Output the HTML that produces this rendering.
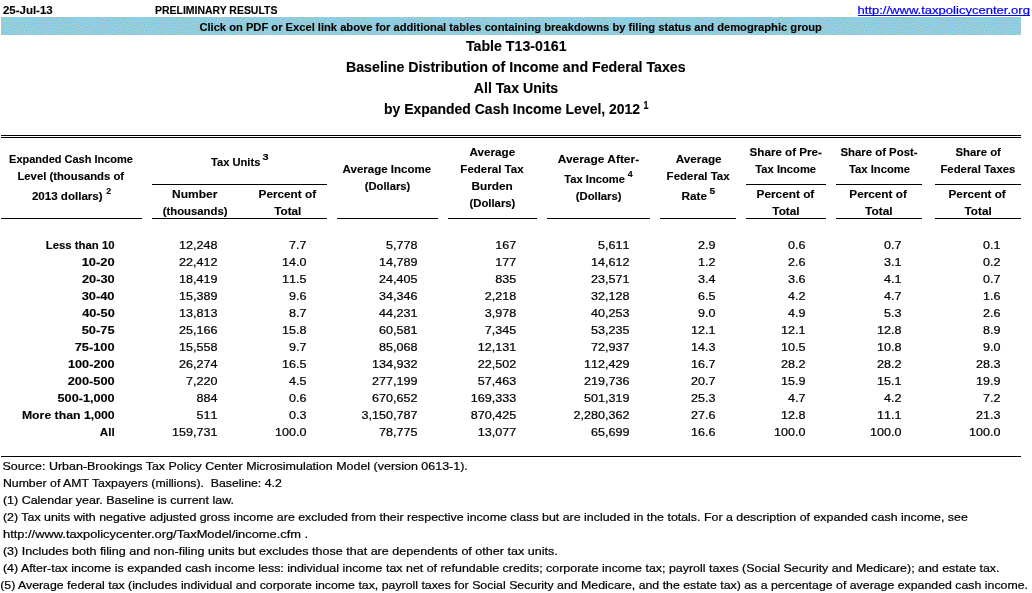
<!DOCTYPE html>
<html lang="en"><head><meta charset="utf-8"><title>Table T13-0161</title>
<style>
html,body{margin:0;padding:0;background:#fff}
#pg{position:relative;width:1032px;height:593px;overflow:hidden;background:#fff;color:#000;font-family:"Liberation Sans",sans-serif}
#pg span,#pg a,#pg sup{position:absolute;left:0;white-space:pre;transform-origin:0 0;margin:0;padding:0;vertical-align:baseline}
.b{font-weight:bold;font-size:11.5px;line-height:16px}
.r{font-weight:normal;font-size:11.8px;line-height:16px}
.n{font-kerning:none;font-weight:normal;font-size:11.8px;line-height:16px}
.t{font-weight:bold;font-size:13.8px;line-height:20px}
.l{font-weight:normal;font-size:11.8px;line-height:16px;color:#0000ff;text-decoration:none}
.s{font-weight:bold;font-size:8.5px;line-height:10px}
.st{font-weight:bold;font-size:10px;line-height:12px}
.hl{position:absolute;height:1px;background:#000}
.n,.r{-webkit-text-stroke:0.22px #000}.l{-webkit-text-stroke:0.22px #00f}.b,.t,.s,.st{-webkit-text-stroke:0.12px #000}
#band{position:absolute;left:1px;top:17px;width:1020px;height:18px;background:#92cddc;display:block}
</style></head>
<body><div id="pg">
<div class="top">
<svg id="band" width="1020" height="18" viewBox="0 0 1020 18" shape-rendering="crispEdges" aria-hidden="true"><defs><pattern id="dz" width="60" height="18" patternUnits="userSpaceOnUse"><rect width="60" height="18" fill="#99cccc"/><rect x="1" y="0" width="1" height="1" fill="#66ccff"/><rect x="8" y="0" width="1" height="1" fill="#99ccff"/><rect x="11" y="0" width="1" height="1" fill="#99ccff"/><rect x="13" y="0" width="1" height="1" fill="#66cccc"/><rect x="14" y="0" width="1" height="1" fill="#99ccff"/><rect x="17" y="0" width="1" height="1" fill="#99ccff"/><rect x="19" y="0" width="1" height="1" fill="#99ccff"/><rect x="22" y="0" width="1" height="1" fill="#99ccff"/><rect x="25" y="0" width="1" height="1" fill="#99ccff"/><rect x="29" y="0" width="1" height="1" fill="#99ccff"/><rect x="31" y="0" width="1" height="1" fill="#99ccff"/><rect x="36" y="0" width="1" height="1" fill="#99ccff"/><rect x="38" y="0" width="1" height="1" fill="#99ccff"/><rect x="42" y="0" width="1" height="1" fill="#99ccff"/><rect x="44" y="0" width="1" height="1" fill="#66cccc"/><rect x="47" y="0" width="1" height="1" fill="#66ccff"/><rect x="50" y="0" width="1" height="1" fill="#66ccff"/><rect x="52" y="0" width="1" height="1" fill="#99ccff"/><rect x="57" y="0" width="1" height="1" fill="#99ccff"/><rect x="58" y="0" width="1" height="1" fill="#66cccc"/><rect x="2" y="1" width="1" height="1" fill="#99ccff"/><rect x="4" y="1" width="1" height="1" fill="#66ccff"/><rect x="6" y="1" width="1" height="1" fill="#99ccff"/><rect x="7" y="1" width="1" height="1" fill="#66cccc"/><rect x="10" y="1" width="1" height="1" fill="#99ccff"/><rect x="13" y="1" width="1" height="1" fill="#99ccff"/><rect x="15" y="1" width="1" height="1" fill="#99ccff"/><rect x="17" y="1" width="1" height="1" fill="#66cccc"/><rect x="18" y="1" width="1" height="1" fill="#99ccff"/><rect x="20" y="1" width="1" height="1" fill="#99ccff"/><rect x="21" y="1" width="1" height="1" fill="#66cccc"/><rect x="23" y="1" width="1" height="1" fill="#99ccff"/><rect x="25" y="1" width="1" height="1" fill="#66cccc"/><rect x="27" y="1" width="1" height="1" fill="#99ccff"/><rect x="29" y="1" width="1" height="1" fill="#66cccc"/><rect x="32" y="1" width="1" height="1" fill="#99ccff"/><rect x="34" y="1" width="1" height="1" fill="#99ccff"/><rect x="35" y="1" width="1" height="1" fill="#66cccc"/><rect x="38" y="1" width="1" height="1" fill="#66cccc"/><rect x="39" y="1" width="1" height="1" fill="#99ccff"/><rect x="43" y="1" width="1" height="1" fill="#99ccff"/><rect x="45" y="1" width="1" height="1" fill="#99ccff"/><rect x="48" y="1" width="1" height="1" fill="#99ccff"/><rect x="51" y="1" width="1" height="1" fill="#99ccff"/><rect x="54" y="1" width="1" height="1" fill="#99ccff"/><rect x="56" y="1" width="1" height="1" fill="#66ccff"/><rect x="0" y="2" width="1" height="1" fill="#99ccff"/><rect x="2" y="2" width="1" height="1" fill="#66cccc"/><rect x="5" y="2" width="1" height="1" fill="#99ccff"/><rect x="8" y="2" width="1" height="1" fill="#99ccff"/><rect x="11" y="2" width="1" height="1" fill="#66ccff"/><rect x="15" y="2" width="1" height="1" fill="#66cccc"/><rect x="16" y="2" width="1" height="1" fill="#99ccff"/><rect x="21" y="2" width="1" height="1" fill="#99ccff"/><rect x="23" y="2" width="1" height="1" fill="#66cccc"/><rect x="24" y="2" width="1" height="1" fill="#99ccff"/><rect x="26" y="2" width="1" height="1" fill="#99ccff"/><rect x="29" y="2" width="1" height="1" fill="#99ccff"/><rect x="31" y="2" width="1" height="1" fill="#66ccff"/><rect x="35" y="2" width="1" height="1" fill="#99ccff"/><rect x="37" y="2" width="1" height="1" fill="#99ccff"/><rect x="40" y="2" width="1" height="1" fill="#66ccff"/><rect x="42" y="2" width="1" height="1" fill="#66ccff"/><rect x="45" y="2" width="1" height="1" fill="#99ccff"/><rect x="48" y="2" width="1" height="1" fill="#66cccc"/><rect x="49" y="2" width="1" height="1" fill="#99ccff"/><rect x="53" y="2" width="1" height="1" fill="#66ccff"/><rect x="58" y="2" width="1" height="1" fill="#99ccff"/><rect x="0" y="3" width="1" height="1" fill="#99ccff"/><rect x="2" y="3" width="1" height="1" fill="#99ccff"/><rect x="4" y="3" width="1" height="1" fill="#99ccff"/><rect x="7" y="3" width="1" height="1" fill="#99ccff"/><rect x="9" y="3" width="1" height="1" fill="#66cccc"/><rect x="10" y="3" width="1" height="1" fill="#99ccff"/><rect x="13" y="3" width="1" height="1" fill="#99ccff"/><rect x="15" y="3" width="1" height="1" fill="#99ccff"/><rect x="18" y="3" width="1" height="1" fill="#99ccff"/><rect x="19" y="3" width="1" height="1" fill="#66cccc"/><rect x="20" y="3" width="1" height="1" fill="#99ccff"/><rect x="25" y="3" width="1" height="1" fill="#99ccff"/><rect x="27" y="3" width="1" height="1" fill="#66cccc"/><rect x="29" y="3" width="1" height="1" fill="#99ccff"/><rect x="33" y="3" width="1" height="1" fill="#99ccff"/><rect x="35" y="3" width="1" height="1" fill="#66cccc"/><rect x="36" y="3" width="1" height="1" fill="#99ccff"/><rect x="38" y="3" width="1" height="1" fill="#99ccff"/><rect x="43" y="3" width="1" height="1" fill="#99ccff"/><rect x="46" y="3" width="1" height="1" fill="#66ccff"/><rect x="48" y="3" width="1" height="1" fill="#99ccff"/><rect x="51" y="3" width="1" height="1" fill="#66ccff"/><rect x="54" y="3" width="1" height="1" fill="#99ccff"/><rect x="56" y="3" width="1" height="1" fill="#99ccff"/><rect x="57" y="3" width="1" height="1" fill="#66cccc"/><rect x="59" y="3" width="1" height="1" fill="#99ccff"/><rect x="0" y="4" width="1" height="1" fill="#66cccc"/><rect x="3" y="4" width="1" height="1" fill="#99ccff"/><rect x="5" y="4" width="1" height="1" fill="#66cccc"/><rect x="6" y="4" width="1" height="1" fill="#99ccff"/><rect x="9" y="4" width="1" height="1" fill="#99ccff"/><rect x="12" y="4" width="1" height="1" fill="#66ccff"/><rect x="14" y="4" width="1" height="1" fill="#99ccff"/><rect x="17" y="4" width="1" height="1" fill="#99ccff"/><rect x="22" y="4" width="1" height="1" fill="#99ccff"/><rect x="23" y="4" width="1" height="1" fill="#66cccc"/><rect x="24" y="4" width="1" height="1" fill="#99ccff"/><rect x="27" y="4" width="1" height="1" fill="#99ccff"/><rect x="30" y="4" width="1" height="1" fill="#99ccff"/><rect x="32" y="4" width="1" height="1" fill="#99ccff"/><rect x="33" y="4" width="1" height="1" fill="#66cccc"/><rect x="35" y="4" width="1" height="1" fill="#99ccff"/><rect x="38" y="4" width="1" height="1" fill="#66cccc"/><rect x="39" y="4" width="1" height="1" fill="#99ccff"/><rect x="41" y="4" width="1" height="1" fill="#99ccff"/><rect x="44" y="4" width="1" height="1" fill="#66ccff"/><rect x="49" y="4" width="1" height="1" fill="#99ccff"/><rect x="52" y="4" width="1" height="1" fill="#99ccff"/><rect x="55" y="4" width="1" height="1" fill="#66cccc"/><rect x="57" y="4" width="1" height="1" fill="#99ccff"/><rect x="1" y="5" width="1" height="1" fill="#99ccff"/><rect x="3" y="5" width="1" height="1" fill="#66cccc"/><rect x="5" y="5" width="1" height="1" fill="#99ccff"/><rect x="8" y="5" width="1" height="1" fill="#66ccff"/><rect x="15" y="5" width="1" height="1" fill="#66ccff"/><rect x="18" y="5" width="1" height="1" fill="#66cccc"/><rect x="19" y="5" width="1" height="1" fill="#99ccff"/><rect x="21" y="5" width="1" height="1" fill="#99ccff"/><rect x="26" y="5" width="1" height="1" fill="#99ccff"/><rect x="29" y="5" width="1" height="1" fill="#66ccff"/><rect x="33" y="5" width="1" height="1" fill="#99ccff"/><rect x="37" y="5" width="1" height="1" fill="#99ccff"/><rect x="42" y="5" width="1" height="1" fill="#99ccff"/><rect x="45" y="5" width="1" height="1" fill="#99ccff"/><rect x="47" y="5" width="1" height="1" fill="#99ccff"/><rect x="48" y="5" width="1" height="1" fill="#66cccc"/><rect x="51" y="5" width="1" height="1" fill="#99ccff"/><rect x="53" y="5" width="1" height="1" fill="#99ccff"/><rect x="55" y="5" width="1" height="1" fill="#99ccff"/><rect x="58" y="5" width="1" height="1" fill="#99ccff"/><rect x="1" y="6" width="1" height="1" fill="#99ccff"/><rect x="3" y="6" width="1" height="1" fill="#99ccff"/><rect x="6" y="6" width="1" height="1" fill="#66cccc"/><rect x="9" y="6" width="1" height="1" fill="#99ccff"/><rect x="10" y="6" width="1" height="1" fill="#66cccc"/><rect x="11" y="6" width="1" height="1" fill="#99ccff"/><rect x="13" y="6" width="1" height="1" fill="#99ccff"/><rect x="17" y="6" width="1" height="1" fill="#99ccff"/><rect x="21" y="6" width="1" height="1" fill="#66cccc"/><rect x="23" y="6" width="1" height="1" fill="#99ccff"/><rect x="25" y="6" width="1" height="1" fill="#66ccff"/><rect x="28" y="6" width="1" height="1" fill="#99ccff"/><rect x="30" y="6" width="1" height="1" fill="#99ccff"/><rect x="32" y="6" width="1" height="1" fill="#99ccff"/><rect x="33" y="6" width="1" height="1" fill="#66cccc"/><rect x="35" y="6" width="1" height="1" fill="#99ccff"/><rect x="37" y="6" width="1" height="1" fill="#66cccc"/><rect x="39" y="6" width="1" height="1" fill="#99ccff"/><rect x="40" y="6" width="1" height="1" fill="#66cccc"/><rect x="41" y="6" width="1" height="1" fill="#99ccff"/><rect x="42" y="6" width="1" height="1" fill="#66cccc"/><rect x="44" y="6" width="1" height="1" fill="#99ccff"/><rect x="45" y="6" width="1" height="1" fill="#66cccc"/><rect x="47" y="6" width="1" height="1" fill="#99ccff"/><rect x="49" y="6" width="1" height="1" fill="#99ccff"/><rect x="50" y="6" width="1" height="1" fill="#66cccc"/><rect x="53" y="6" width="1" height="1" fill="#66cccc"/><rect x="56" y="6" width="1" height="1" fill="#66ccff"/><rect x="59" y="6" width="1" height="1" fill="#66ccff"/><rect x="1" y="7" width="1" height="1" fill="#66cccc"/><rect x="4" y="7" width="1" height="1" fill="#66ccff"/><rect x="6" y="7" width="1" height="1" fill="#99ccff"/><rect x="8" y="7" width="1" height="1" fill="#99ccff"/><rect x="14" y="7" width="1" height="1" fill="#99ccff"/><rect x="16" y="7" width="1" height="1" fill="#99ccff"/><rect x="18" y="7" width="1" height="1" fill="#66cccc"/><rect x="19" y="7" width="1" height="1" fill="#99ccff"/><rect x="21" y="7" width="1" height="1" fill="#99ccff"/><rect x="23" y="7" width="1" height="1" fill="#66cccc"/><rect x="27" y="7" width="1" height="1" fill="#66ccff"/><rect x="31" y="7" width="1" height="1" fill="#66ccff"/><rect x="36" y="7" width="1" height="1" fill="#99ccff"/><rect x="38" y="7" width="1" height="1" fill="#99ccff"/><rect x="42" y="7" width="1" height="1" fill="#99ccff"/><rect x="45" y="7" width="1" height="1" fill="#99ccff"/><rect x="50" y="7" width="1" height="1" fill="#99ccff"/><rect x="52" y="7" width="1" height="1" fill="#99ccff"/><rect x="54" y="7" width="1" height="1" fill="#99ccff"/><rect x="57" y="7" width="1" height="1" fill="#99ccff"/><rect x="0" y="8" width="1" height="1" fill="#99ccff"/><rect x="2" y="8" width="1" height="1" fill="#99ccff"/><rect x="6" y="8" width="1" height="1" fill="#99ccff"/><rect x="10" y="8" width="1" height="1" fill="#99ccff"/><rect x="12" y="8" width="1" height="1" fill="#66ccff"/><rect x="14" y="8" width="1" height="1" fill="#66ccff"/><rect x="18" y="8" width="1" height="1" fill="#99ccff"/><rect x="20" y="8" width="1" height="1" fill="#66cccc"/><rect x="22" y="8" width="1" height="1" fill="#99ccff"/><rect x="24" y="8" width="1" height="1" fill="#99ccff"/><rect x="26" y="8" width="1" height="1" fill="#99ccff"/><rect x="29" y="8" width="1" height="1" fill="#99ccff"/><rect x="33" y="8" width="1" height="1" fill="#99ccff"/><rect x="35" y="8" width="1" height="1" fill="#66ccff"/><rect x="37" y="8" width="1" height="1" fill="#99ccff"/><rect x="38" y="8" width="1" height="1" fill="#66cccc"/><rect x="39" y="8" width="1" height="1" fill="#99ccff"/><rect x="43" y="8" width="1" height="1" fill="#99ccff"/><rect x="44" y="8" width="1" height="1" fill="#66cccc"/><rect x="47" y="8" width="1" height="1" fill="#99ccff"/><rect x="48" y="8" width="1" height="1" fill="#66cccc"/><rect x="49" y="8" width="1" height="1" fill="#99ccff"/><rect x="51" y="8" width="1" height="1" fill="#66cccc"/><rect x="53" y="8" width="1" height="1" fill="#99ccff"/><rect x="54" y="8" width="1" height="1" fill="#66cccc"/><rect x="56" y="8" width="1" height="1" fill="#99ccff"/><rect x="58" y="8" width="1" height="1" fill="#66cccc"/><rect x="59" y="8" width="1" height="1" fill="#99ccff"/><rect x="1" y="9" width="1" height="1" fill="#99ccff"/><rect x="2" y="9" width="1" height="1" fill="#66cccc"/><rect x="4" y="9" width="1" height="1" fill="#99ccff"/><rect x="6" y="9" width="1" height="1" fill="#66cccc"/><rect x="8" y="9" width="1" height="1" fill="#99ccff"/><rect x="9" y="9" width="1" height="1" fill="#66cccc"/><rect x="10" y="9" width="1" height="1" fill="#99ccff"/><rect x="13" y="9" width="1" height="1" fill="#99ccff"/><rect x="16" y="9" width="1" height="1" fill="#66ccff"/><rect x="19" y="9" width="1" height="1" fill="#99ccff"/><rect x="21" y="9" width="1" height="1" fill="#99ccff"/><rect x="23" y="9" width="1" height="1" fill="#66cccc"/><rect x="25" y="9" width="1" height="1" fill="#99ccff"/><rect x="28" y="9" width="1" height="1" fill="#66ccff"/><rect x="31" y="9" width="1" height="1" fill="#99ccff"/><rect x="33" y="9" width="1" height="1" fill="#66cccc"/><rect x="35" y="9" width="1" height="1" fill="#99ccff"/><rect x="40" y="9" width="1" height="1" fill="#66ccff"/><rect x="42" y="9" width="1" height="1" fill="#99ccff"/><rect x="45" y="9" width="1" height="1" fill="#99ccff"/><rect x="47" y="9" width="1" height="1" fill="#99ccff"/><rect x="51" y="9" width="1" height="1" fill="#99ccff"/><rect x="55" y="9" width="1" height="1" fill="#99ccff"/><rect x="56" y="9" width="1" height="1" fill="#66cccc"/><rect x="58" y="9" width="1" height="1" fill="#99ccff"/><rect x="0" y="10" width="1" height="1" fill="#99ccff"/><rect x="5" y="10" width="1" height="1" fill="#99ccff"/><rect x="7" y="10" width="1" height="1" fill="#66ccff"/><rect x="11" y="10" width="1" height="1" fill="#99ccff"/><rect x="14" y="10" width="1" height="1" fill="#99ccff"/><rect x="17" y="10" width="1" height="1" fill="#99ccff"/><rect x="18" y="10" width="1" height="1" fill="#66cccc"/><rect x="20" y="10" width="1" height="1" fill="#99ccff"/><rect x="23" y="10" width="1" height="1" fill="#99ccff"/><rect x="26" y="10" width="1" height="1" fill="#66cccc"/><rect x="27" y="10" width="1" height="1" fill="#99ccff"/><rect x="30" y="10" width="1" height="1" fill="#66ccff"/><rect x="33" y="10" width="1" height="1" fill="#99ccff"/><rect x="36" y="10" width="1" height="1" fill="#66cccc"/><rect x="37" y="10" width="1" height="1" fill="#99ccff"/><rect x="39" y="10" width="1" height="1" fill="#99ccff"/><rect x="42" y="10" width="1" height="1" fill="#66cccc"/><rect x="43" y="10" width="1" height="1" fill="#99ccff"/><rect x="46" y="10" width="1" height="1" fill="#66cccc"/><rect x="48" y="10" width="1" height="1" fill="#99ccff"/><rect x="51" y="10" width="1" height="1" fill="#99ccff"/><rect x="53" y="10" width="1" height="1" fill="#66ccff"/><rect x="57" y="10" width="1" height="1" fill="#99ccff"/><rect x="2" y="11" width="1" height="1" fill="#99ccff"/><rect x="3" y="11" width="1" height="1" fill="#66cccc"/><rect x="4" y="11" width="1" height="1" fill="#99ccff"/><rect x="7" y="11" width="1" height="1" fill="#99ccff"/><rect x="9" y="11" width="1" height="1" fill="#99ccff"/><rect x="11" y="11" width="1" height="1" fill="#66cccc"/><rect x="13" y="11" width="1" height="1" fill="#99ccff"/><rect x="14" y="11" width="1" height="1" fill="#66cccc"/><rect x="16" y="11" width="1" height="1" fill="#99ccff"/><rect x="22" y="11" width="1" height="1" fill="#66ccff"/><rect x="25" y="11" width="1" height="1" fill="#99ccff"/><rect x="28" y="11" width="1" height="1" fill="#99ccff"/><rect x="31" y="11" width="1" height="1" fill="#99ccff"/><rect x="34" y="11" width="1" height="1" fill="#99ccff"/><rect x="36" y="11" width="1" height="1" fill="#99ccff"/><rect x="40" y="11" width="1" height="1" fill="#99ccff"/><rect x="44" y="11" width="1" height="1" fill="#66ccff"/><rect x="46" y="11" width="1" height="1" fill="#99ccff"/><rect x="49" y="11" width="1" height="1" fill="#66ccff"/><rect x="53" y="11" width="1" height="1" fill="#99ccff"/><rect x="55" y="11" width="1" height="1" fill="#99ccff"/><rect x="58" y="11" width="1" height="1" fill="#99ccff"/><rect x="5" y="12" width="1" height="1" fill="#66ccff"/><rect x="9" y="12" width="1" height="1" fill="#66cccc"/><rect x="10" y="12" width="1" height="1" fill="#99ccff"/><rect x="12" y="12" width="1" height="1" fill="#99ccff"/><rect x="15" y="12" width="1" height="1" fill="#99ccff"/><rect x="18" y="12" width="1" height="1" fill="#66ccff"/><rect x="20" y="12" width="1" height="1" fill="#99ccff"/><rect x="23" y="12" width="1" height="1" fill="#99ccff"/><rect x="26" y="12" width="1" height="1" fill="#66ccff"/><rect x="29" y="12" width="1" height="1" fill="#99ccff"/><rect x="32" y="12" width="1" height="1" fill="#66ccff"/><rect x="37" y="12" width="1" height="1" fill="#66cccc"/><rect x="38" y="12" width="1" height="1" fill="#99ccff"/><rect x="40" y="12" width="1" height="1" fill="#66cccc"/><rect x="41" y="12" width="1" height="1" fill="#99ccff"/><rect x="45" y="12" width="1" height="1" fill="#99ccff"/><rect x="48" y="12" width="1" height="1" fill="#99ccff"/><rect x="51" y="12" width="1" height="1" fill="#66ccff"/><rect x="56" y="12" width="1" height="1" fill="#66ccff"/><rect x="58" y="12" width="1" height="1" fill="#66cccc"/><rect x="59" y="12" width="1" height="1" fill="#99ccff"/><rect x="1" y="13" width="1" height="1" fill="#66ccff"/><rect x="3" y="13" width="1" height="1" fill="#99ccff"/><rect x="6" y="13" width="1" height="1" fill="#99ccff"/><rect x="7" y="13" width="1" height="1" fill="#66cccc"/><rect x="8" y="13" width="1" height="1" fill="#99ccff"/><rect x="11" y="13" width="1" height="1" fill="#99ccff"/><rect x="14" y="13" width="1" height="1" fill="#99ccff"/><rect x="16" y="13" width="1" height="1" fill="#66cccc"/><rect x="18" y="13" width="1" height="1" fill="#99ccff"/><rect x="21" y="13" width="1" height="1" fill="#99ccff"/><rect x="22" y="13" width="1" height="1" fill="#66cccc"/><rect x="24" y="13" width="1" height="1" fill="#99ccff"/><rect x="25" y="13" width="1" height="1" fill="#66cccc"/><rect x="27" y="13" width="1" height="1" fill="#99ccff"/><rect x="29" y="13" width="1" height="1" fill="#66cccc"/><rect x="30" y="13" width="1" height="1" fill="#99ccff"/><rect x="33" y="13" width="1" height="1" fill="#99ccff"/><rect x="35" y="13" width="1" height="1" fill="#66ccff"/><rect x="37" y="13" width="1" height="1" fill="#99ccff"/><rect x="40" y="13" width="1" height="1" fill="#99ccff"/><rect x="42" y="13" width="1" height="1" fill="#99ccff"/><rect x="44" y="13" width="1" height="1" fill="#99ccff"/><rect x="45" y="13" width="1" height="1" fill="#66cccc"/><rect x="47" y="13" width="1" height="1" fill="#99ccff"/><rect x="50" y="13" width="1" height="1" fill="#99ccff"/><rect x="52" y="13" width="1" height="1" fill="#99ccff"/><rect x="54" y="13" width="1" height="1" fill="#99ccff"/><rect x="57" y="13" width="1" height="1" fill="#99ccff"/><rect x="0" y="14" width="1" height="1" fill="#99ccff"/><rect x="4" y="14" width="1" height="1" fill="#99ccff"/><rect x="8" y="14" width="1" height="1" fill="#99ccff"/><rect x="10" y="14" width="1" height="1" fill="#99ccff"/><rect x="13" y="14" width="1" height="1" fill="#66ccff"/><rect x="16" y="14" width="1" height="1" fill="#99ccff"/><rect x="20" y="14" width="1" height="1" fill="#66ccff"/><rect x="23" y="14" width="1" height="1" fill="#99ccff"/><rect x="26" y="14" width="1" height="1" fill="#99ccff"/><rect x="29" y="14" width="1" height="1" fill="#99ccff"/><rect x="34" y="14" width="1" height="1" fill="#66cccc"/><rect x="36" y="14" width="1" height="1" fill="#99ccff"/><rect x="39" y="14" width="1" height="1" fill="#99ccff"/><rect x="41" y="14" width="1" height="1" fill="#66cccc"/><rect x="45" y="14" width="1" height="1" fill="#99ccff"/><rect x="49" y="14" width="1" height="1" fill="#66ccff"/><rect x="53" y="14" width="1" height="1" fill="#66ccff"/><rect x="55" y="14" width="1" height="1" fill="#99ccff"/><rect x="58" y="14" width="1" height="1" fill="#99ccff"/><rect x="2" y="15" width="1" height="1" fill="#99ccff"/><rect x="5" y="15" width="1" height="1" fill="#66ccff"/><rect x="7" y="15" width="1" height="1" fill="#99ccff"/><rect x="10" y="15" width="1" height="1" fill="#66cccc"/><rect x="11" y="15" width="1" height="1" fill="#99ccff"/><rect x="16" y="15" width="1" height="1" fill="#66cccc"/><rect x="17" y="15" width="1" height="1" fill="#99ccff"/><rect x="19" y="15" width="1" height="1" fill="#99ccff"/><rect x="23" y="15" width="1" height="1" fill="#99ccff"/><rect x="27" y="15" width="1" height="1" fill="#99ccff"/><rect x="28" y="15" width="1" height="1" fill="#66cccc"/><rect x="30" y="15" width="1" height="1" fill="#99ccff"/><rect x="31" y="15" width="1" height="1" fill="#66cccc"/><rect x="32" y="15" width="1" height="1" fill="#99ccff"/><rect x="34" y="15" width="1" height="1" fill="#99ccff"/><rect x="37" y="15" width="1" height="1" fill="#66ccff"/><rect x="39" y="15" width="1" height="1" fill="#66cccc"/><rect x="41" y="15" width="1" height="1" fill="#99ccff"/><rect x="43" y="15" width="1" height="1" fill="#99ccff"/><rect x="44" y="15" width="1" height="1" fill="#66cccc"/><rect x="47" y="15" width="1" height="1" fill="#66ccff"/><rect x="50" y="15" width="1" height="1" fill="#99ccff"/><rect x="52" y="15" width="1" height="1" fill="#99ccff"/><rect x="56" y="15" width="1" height="1" fill="#66cccc"/><rect x="58" y="15" width="1" height="1" fill="#66ccff"/><rect x="1" y="16" width="1" height="1" fill="#66ccff"/><rect x="4" y="16" width="1" height="1" fill="#66ccff"/><rect x="9" y="16" width="1" height="1" fill="#99ccff"/><rect x="12" y="16" width="1" height="1" fill="#99ccff"/><rect x="14" y="16" width="1" height="1" fill="#66ccff"/><rect x="16" y="16" width="1" height="1" fill="#99ccff"/><rect x="18" y="16" width="1" height="1" fill="#66cccc"/><rect x="21" y="16" width="1" height="1" fill="#99ccff"/><rect x="24" y="16" width="1" height="1" fill="#99ccff"/><rect x="25" y="16" width="1" height="1" fill="#66cccc"/><rect x="28" y="16" width="1" height="1" fill="#99ccff"/><rect x="34" y="16" width="1" height="1" fill="#99ccff"/><rect x="38" y="16" width="1" height="1" fill="#99ccff"/><rect x="40" y="16" width="1" height="1" fill="#99ccff"/><rect x="42" y="16" width="1" height="1" fill="#66ccff"/><rect x="44" y="16" width="1" height="1" fill="#99ccff"/><rect x="46" y="16" width="1" height="1" fill="#99ccff"/><rect x="51" y="16" width="1" height="1" fill="#66ccff"/><rect x="54" y="16" width="1" height="1" fill="#99ccff"/><rect x="56" y="16" width="1" height="1" fill="#99ccff"/><rect x="2" y="17" width="1" height="1" fill="#99ccff"/><rect x="6" y="17" width="1" height="1" fill="#99ccff"/><rect x="7" y="17" width="1" height="1" fill="#66cccc"/><rect x="8" y="17" width="1" height="1" fill="#99ccff"/><rect x="11" y="17" width="1" height="1" fill="#66ccff"/><rect x="15" y="17" width="1" height="1" fill="#99ccff"/><rect x="18" y="17" width="1" height="1" fill="#99ccff"/><rect x="20" y="17" width="1" height="1" fill="#99ccff"/><rect x="22" y="17" width="1" height="1" fill="#66cccc"/><rect x="23" y="17" width="1" height="1" fill="#99ccff"/><rect x="26" y="17" width="1" height="1" fill="#99ccff"/><rect x="29" y="17" width="1" height="1" fill="#99ccff"/><rect x="30" y="17" width="1" height="1" fill="#66cccc"/><rect x="31" y="17" width="1" height="1" fill="#99ccff"/><rect x="33" y="17" width="1" height="1" fill="#66ccff"/><rect x="35" y="17" width="1" height="1" fill="#99ccff"/><rect x="36" y="17" width="1" height="1" fill="#66cccc"/><rect x="37" y="17" width="1" height="1" fill="#99ccff"/><rect x="40" y="17" width="1" height="1" fill="#66cccc"/><rect x="45" y="17" width="1" height="1" fill="#99ccff"/><rect x="48" y="17" width="1" height="1" fill="#99ccff"/><rect x="49" y="17" width="1" height="1" fill="#66cccc"/><rect x="50" y="17" width="1" height="1" fill="#99ccff"/><rect x="53" y="17" width="1" height="1" fill="#66ccff"/><rect x="57" y="17" width="1" height="1" fill="#99ccff"/><rect x="59" y="17" width="1" height="1" fill="#99ccff"/></pattern></defs><rect width="1020" height="18" fill="url(#dz)"/></svg>
<span class="b" style="top:2px;transform:translateX(2.91px) scaleX(0.9987)">25-Jul-13</span>
<span class="b" style="top:2px;transform:translateX(155.00px) scaleX(0.9093)">PRELIMINARY RESULTS</span>
<a class="l" style="top:2px;transform:translateX(857.45px) scaleX(1.1052)">http://www.taxpolicycenter.org</a>
<span class="b" style="top:19px;transform:translateX(199.39px) scaleX(0.9704)">Click on PDF or Excel link above for additional tables containing breakdowns by filing status and demographic group</span>
<span class="t" style="top:37px;transform:translateX(465.91px) scaleX(1.0286)">Table T13-0161</span>
<span class="t" style="top:58px;transform:translateX(345.97px) scaleX(1.0287)">Baseline Distribution of Income and Federal Taxes</span>
<span class="t" style="top:79px;transform:translateX(473.85px) scaleX(1.0219)">All Tax Units</span>
<span class="t" style="top:100px;transform:translateX(383.99px) scaleX(1.0122)">by Expanded Cash Income Level, 2012</span>
<sup class="st" style="top:100px;transform:translateX(643.38px) scaleX(0.9064)">1</sup>
<div class="hl" style="left:858px;top:15px;width:172px;background:#0000ff"></div>
</div>
<div class="thead">
<div class="hl" style="left:1px;top:135px;width:1020px"></div>
<div class="hl" style="left:1px;top:137px;width:1020px"></div>
<div class="hl" style="left:1px;top:218px;width:141px"></div>
<div class="hl" style="left:152px;top:218px;width:175px"></div>
<div class="hl" style="left:152px;top:184px;width:175px"></div>
<div class="hl" style="left:337px;top:218px;width:101px"></div>
<div class="hl" style="left:448px;top:218px;width:89px"></div>
<div class="hl" style="left:547px;top:218px;width:103px"></div>
<div class="hl" style="left:660px;top:218px;width:76px"></div>
<div class="hl" style="left:746px;top:218px;width:80px"></div>
<div class="hl" style="left:746px;top:184px;width:80px"></div>
<div class="hl" style="left:836px;top:218px;width:86px"></div>
<div class="hl" style="left:836px;top:184px;width:86px"></div>
<div class="hl" style="left:935px;top:218px;width:86px"></div>
<div class="hl" style="left:935px;top:184px;width:86px"></div>
<span class="b" style="top:151px;transform:translateX(9.07px) scaleX(0.9547)">Expanded Cash Income</span>
<span class="b" style="top:168px;transform:translateX(17.45px) scaleX(0.9812)">Level (thousands of</span>
<span class="b" style="top:188px;transform:translateX(31.90px) scaleX(1.0063)">2013 dollars)</span>
<sup class="s" style="top:186px;transform:translateX(106.19px) scaleX(1.0328)">2</sup>
<span class="b" style="top:154px;transform:translateX(211.07px) scaleX(0.9674)">Tax Units</span>
<sup class="s" style="top:152px;transform:translateX(262.43px) scaleX(1.2696)">3</sup>
<span class="b" style="top:186px;transform:translateX(172.00px) scaleX(1.0429)">Number</span>
<span class="b" style="top:203px;transform:translateX(162.71px) scaleX(0.9849)">(thousands)</span>
<span class="b" style="top:186px;transform:translateX(258.55px) scaleX(1.0236)">Percent of</span>
<span class="b" style="top:203px;transform:translateX(274.28px) scaleX(1.0173)">Total</span>
<span class="b" style="top:161px;transform:translateX(342.62px) scaleX(1.0005)">Average Income</span>
<span class="b" style="top:178px;transform:translateX(364.76px) scaleX(0.9748)">(Dollars)</span>
<span class="b" style="top:144px;transform:translateX(469.50px) scaleX(1.0146)">Average</span>
<span class="b" style="top:161px;transform:translateX(460.37px) scaleX(1.0024)">Federal Tax</span>
<span class="b" style="top:178px;transform:translateX(471.51px) scaleX(1.0254)">Burden</span>
<span class="b" style="top:195px;transform:translateX(469.47px) scaleX(0.9843)">(Dollars)</span>
<span class="b" style="top:151px;transform:translateX(557.73px) scaleX(1.0383)">Average After-</span>
<span class="b" style="top:171px;transform:translateX(564.36px) scaleX(0.9692)">Tax Income</span>
<sup class="s" style="top:169px;transform:translateX(627.79px) scaleX(1.0386)">4</sup>
<span class="b" style="top:188px;transform:translateX(575.71px) scaleX(0.9832)">(Dollars)</span>
<span class="b" style="top:151px;transform:translateX(675.84px) scaleX(1.0169)">Average</span>
<span class="b" style="top:168px;transform:translateX(666.62px) scaleX(0.9990)">Federal Tax</span>
<span class="b" style="top:188px;transform:translateX(681.50px) scaleX(1.0271)">Rate</span>
<sup class="s" style="top:186px;transform:translateX(709.52px) scaleX(1.1968)">5</sup>
<span class="b" style="top:144px;transform:translateX(749.62px) scaleX(1.0095)">Share of Pre-</span>
<span class="b" style="top:161px;transform:translateX(755.34px) scaleX(0.9725)">Tax Income</span>
<span class="b" style="top:186px;transform:translateX(756.53px) scaleX(1.0274)">Percent of</span>
<span class="b" style="top:203px;transform:translateX(772.30px) scaleX(1.0272)">Total</span>
<span class="b" style="top:144px;transform:translateX(840.38px) scaleX(0.9899)">Share of Post-</span>
<span class="b" style="top:161px;transform:translateX(849.06px) scaleX(0.9784)">Tax Income</span>
<span class="b" style="top:186px;transform:translateX(849.30px) scaleX(1.0231)">Percent of</span>
<span class="b" style="top:203px;transform:translateX(865.02px) scaleX(1.0357)">Total</span>
<span class="b" style="top:144px;transform:translateX(955.45px) scaleX(0.9867)">Share of</span>
<span class="b" style="top:161px;transform:translateX(940.42px) scaleX(0.9875)">Federal Taxes</span>
<span class="b" style="top:186px;transform:translateX(948.57px) scaleX(1.0170)">Percent of</span>
<span class="b" style="top:203px;transform:translateX(964.58px) scaleX(1.0181)">Total</span>
</div>
<div class="tbody">
<div class="tr"><span class="b" style="top:237px;transform:translateX(45.69px) scaleX(0.9883)">Less than 10</span><span class="n" style="top:237px;transform:translateX(179.10px) scaleX(1.0667)">12,248</span><span class="n" style="top:237px;transform:translateX(289.10px) scaleX(1.0667)">7.7</span><span class="n" style="top:237px;transform:translateX(386.10px) scaleX(1.0667)">5,778</span><span class="n" style="top:237px;transform:translateX(495.20px) scaleX(1.0667)">167</span><span class="n" style="top:237px;transform:translateX(597.90px) scaleX(1.0667)">5,611</span><span class="n" style="top:237px;transform:translateX(698.10px) scaleX(1.0667)">2.9</span><span class="n" style="top:237px;transform:translateX(788.10px) scaleX(1.0667)">0.6</span><span class="n" style="top:237px;transform:translateX(884.10px) scaleX(1.0667)">0.7</span><span class="n" style="top:237px;transform:translateX(983.10px) scaleX(1.0667)">0.1</span></div>
<div class="tr"><span class="b" style="top:254px;transform:translateX(81.69px) scaleX(1.1207)">10-20</span><span class="n" style="top:254px;transform:translateX(179.10px) scaleX(1.0667)">22,412</span><span class="n" style="top:254px;transform:translateX(282.10px) scaleX(1.0667)">14.0</span><span class="n" style="top:254px;transform:translateX(379.10px) scaleX(1.0667)">14,789</span><span class="n" style="top:254px;transform:translateX(495.20px) scaleX(1.0667)">177</span><span class="n" style="top:254px;transform:translateX(590.90px) scaleX(1.0667)">14,612</span><span class="n" style="top:254px;transform:translateX(698.10px) scaleX(1.0667)">1.2</span><span class="n" style="top:254px;transform:translateX(788.10px) scaleX(1.0667)">2.6</span><span class="n" style="top:254px;transform:translateX(884.10px) scaleX(1.0667)">3.1</span><span class="n" style="top:254px;transform:translateX(983.10px) scaleX(1.0667)">0.2</span></div>
<div class="tr"><span class="b" style="top:271px;transform:translateX(81.91px) scaleX(1.1122)">20-30</span><span class="n" style="top:271px;transform:translateX(179.10px) scaleX(1.0667)">18,419</span><span class="n" style="top:271px;transform:translateX(282.10px) scaleX(1.0667)">11.5</span><span class="n" style="top:271px;transform:translateX(379.10px) scaleX(1.0667)">24,405</span><span class="n" style="top:271px;transform:translateX(495.20px) scaleX(1.0667)">835</span><span class="n" style="top:271px;transform:translateX(590.90px) scaleX(1.0667)">23,571</span><span class="n" style="top:271px;transform:translateX(698.10px) scaleX(1.0667)">3.4</span><span class="n" style="top:271px;transform:translateX(788.10px) scaleX(1.0667)">3.6</span><span class="n" style="top:271px;transform:translateX(884.10px) scaleX(1.0667)">4.1</span><span class="n" style="top:271px;transform:translateX(983.10px) scaleX(1.0667)">0.7</span></div>
<div class="tr"><span class="b" style="top:288px;transform:translateX(81.64px) scaleX(1.1177)">30-40</span><span class="n" style="top:288px;transform:translateX(179.10px) scaleX(1.0667)">15,389</span><span class="n" style="top:288px;transform:translateX(289.10px) scaleX(1.0667)">9.6</span><span class="n" style="top:288px;transform:translateX(379.10px) scaleX(1.0667)">34,346</span><span class="n" style="top:288px;transform:translateX(484.70px) scaleX(1.0667)">2,218</span><span class="n" style="top:288px;transform:translateX(590.90px) scaleX(1.0667)">32,128</span><span class="n" style="top:288px;transform:translateX(698.10px) scaleX(1.0667)">6.5</span><span class="n" style="top:288px;transform:translateX(788.10px) scaleX(1.0667)">4.2</span><span class="n" style="top:288px;transform:translateX(884.10px) scaleX(1.0667)">4.7</span><span class="n" style="top:288px;transform:translateX(983.10px) scaleX(1.0667)">1.6</span></div>
<div class="tr"><span class="b" style="top:305px;transform:translateX(82.22px) scaleX(1.1044)">40-50</span><span class="n" style="top:305px;transform:translateX(179.10px) scaleX(1.0667)">13,813</span><span class="n" style="top:305px;transform:translateX(289.10px) scaleX(1.0667)">8.7</span><span class="n" style="top:305px;transform:translateX(379.10px) scaleX(1.0667)">44,231</span><span class="n" style="top:305px;transform:translateX(484.70px) scaleX(1.0667)">3,978</span><span class="n" style="top:305px;transform:translateX(590.90px) scaleX(1.0667)">40,253</span><span class="n" style="top:305px;transform:translateX(698.10px) scaleX(1.0667)">9.0</span><span class="n" style="top:305px;transform:translateX(788.10px) scaleX(1.0667)">4.9</span><span class="n" style="top:305px;transform:translateX(884.10px) scaleX(1.0667)">5.3</span><span class="n" style="top:305px;transform:translateX(983.10px) scaleX(1.0667)">2.6</span></div>
<div class="tr"><span class="b" style="top:322px;transform:translateX(81.75px) scaleX(1.1138)">50-75</span><span class="n" style="top:322px;transform:translateX(179.10px) scaleX(1.0667)">25,166</span><span class="n" style="top:322px;transform:translateX(282.10px) scaleX(1.0667)">15.8</span><span class="n" style="top:322px;transform:translateX(379.10px) scaleX(1.0667)">60,581</span><span class="n" style="top:322px;transform:translateX(484.70px) scaleX(1.0667)">7,345</span><span class="n" style="top:322px;transform:translateX(590.90px) scaleX(1.0667)">53,235</span><span class="n" style="top:322px;transform:translateX(691.10px) scaleX(1.0667)">12.1</span><span class="n" style="top:322px;transform:translateX(781.10px) scaleX(1.0667)">12.1</span><span class="n" style="top:322px;transform:translateX(877.10px) scaleX(1.0667)">12.8</span><span class="n" style="top:322px;transform:translateX(983.10px) scaleX(1.0667)">8.9</span></div>
<div class="tr"><span class="b" style="top:339px;transform:translateX(74.65px) scaleX(1.1131)">75-100</span><span class="n" style="top:339px;transform:translateX(179.10px) scaleX(1.0667)">15,558</span><span class="n" style="top:339px;transform:translateX(289.10px) scaleX(1.0667)">9.7</span><span class="n" style="top:339px;transform:translateX(379.10px) scaleX(1.0667)">85,068</span><span class="n" style="top:339px;transform:translateX(477.70px) scaleX(1.0667)">12,131</span><span class="n" style="top:339px;transform:translateX(590.90px) scaleX(1.0667)">72,937</span><span class="n" style="top:339px;transform:translateX(691.10px) scaleX(1.0667)">14.3</span><span class="n" style="top:339px;transform:translateX(781.10px) scaleX(1.0667)">10.5</span><span class="n" style="top:339px;transform:translateX(877.10px) scaleX(1.0667)">10.8</span><span class="n" style="top:339px;transform:translateX(983.10px) scaleX(1.0667)">9.0</span></div>
<div class="tr"><span class="b" style="top:356px;transform:translateX(68.04px) scaleX(1.1011)">100-200</span><span class="n" style="top:356px;transform:translateX(179.10px) scaleX(1.0667)">26,274</span><span class="n" style="top:356px;transform:translateX(282.10px) scaleX(1.0667)">16.5</span><span class="n" style="top:356px;transform:translateX(372.10px) scaleX(1.0667)">134,932</span><span class="n" style="top:356px;transform:translateX(477.70px) scaleX(1.0667)">22,502</span><span class="n" style="top:356px;transform:translateX(583.90px) scaleX(1.0667)">112,429</span><span class="n" style="top:356px;transform:translateX(691.10px) scaleX(1.0667)">16.7</span><span class="n" style="top:356px;transform:translateX(781.10px) scaleX(1.0667)">28.2</span><span class="n" style="top:356px;transform:translateX(877.10px) scaleX(1.0667)">28.2</span><span class="n" style="top:356px;transform:translateX(976.10px) scaleX(1.0667)">28.3</span></div>
<div class="tr"><span class="b" style="top:373px;transform:translateX(67.65px) scaleX(1.1139)">200-500</span><span class="n" style="top:373px;transform:translateX(186.10px) scaleX(1.0667)">7,220</span><span class="n" style="top:373px;transform:translateX(289.10px) scaleX(1.0667)">4.5</span><span class="n" style="top:373px;transform:translateX(372.10px) scaleX(1.0667)">277,199</span><span class="n" style="top:373px;transform:translateX(477.70px) scaleX(1.0667)">57,463</span><span class="n" style="top:373px;transform:translateX(583.90px) scaleX(1.0667)">219,736</span><span class="n" style="top:373px;transform:translateX(691.10px) scaleX(1.0667)">20.7</span><span class="n" style="top:373px;transform:translateX(781.10px) scaleX(1.0667)">15.9</span><span class="n" style="top:373px;transform:translateX(877.10px) scaleX(1.0667)">15.1</span><span class="n" style="top:373px;transform:translateX(976.10px) scaleX(1.0667)">19.9</span></div>
<div class="tr"><span class="b" style="top:390px;transform:translateX(57.53px) scaleX(1.1028)">500-1,000</span><span class="n" style="top:390px;transform:translateX(196.60px) scaleX(1.0667)">884</span><span class="n" style="top:390px;transform:translateX(289.10px) scaleX(1.0667)">0.6</span><span class="n" style="top:390px;transform:translateX(372.10px) scaleX(1.0667)">670,652</span><span class="n" style="top:390px;transform:translateX(470.70px) scaleX(1.0667)">169,333</span><span class="n" style="top:390px;transform:translateX(583.90px) scaleX(1.0667)">501,319</span><span class="n" style="top:390px;transform:translateX(691.10px) scaleX(1.0667)">25.3</span><span class="n" style="top:390px;transform:translateX(788.10px) scaleX(1.0667)">4.7</span><span class="n" style="top:390px;transform:translateX(884.10px) scaleX(1.0667)">4.2</span><span class="n" style="top:390px;transform:translateX(983.10px) scaleX(1.0667)">7.2</span></div>
<div class="tr"><span class="b" style="top:407px;transform:translateX(21.89px) scaleX(1.0668)">More than 1,000</span><span class="n" style="top:407px;transform:translateX(196.60px) scaleX(1.0667)">511</span><span class="n" style="top:407px;transform:translateX(289.10px) scaleX(1.0667)">0.3</span><span class="n" style="top:407px;transform:translateX(361.62px) scaleX(1.0667)">3,150,787</span><span class="n" style="top:407px;transform:translateX(470.70px) scaleX(1.0667)">870,425</span><span class="n" style="top:407px;transform:translateX(573.42px) scaleX(1.0667)">2,280,362</span><span class="n" style="top:407px;transform:translateX(691.10px) scaleX(1.0667)">27.6</span><span class="n" style="top:407px;transform:translateX(781.10px) scaleX(1.0667)">12.8</span><span class="n" style="top:407px;transform:translateX(877.10px) scaleX(1.0667)">11.1</span><span class="n" style="top:407px;transform:translateX(976.10px) scaleX(1.0667)">21.3</span></div>
<div class="tr"><span class="b" style="top:424px;transform:translateX(99.85px) scaleX(1.0132)">All</span><span class="n" style="top:424px;transform:translateX(172.10px) scaleX(1.0667)">159,731</span><span class="n" style="top:424px;transform:translateX(275.10px) scaleX(1.0667)">100.0</span><span class="n" style="top:424px;transform:translateX(379.10px) scaleX(1.0667)">78,775</span><span class="n" style="top:424px;transform:translateX(477.70px) scaleX(1.0667)">13,077</span><span class="n" style="top:424px;transform:translateX(590.90px) scaleX(1.0667)">65,699</span><span class="n" style="top:424px;transform:translateX(691.10px) scaleX(1.0667)">16.6</span><span class="n" style="top:424px;transform:translateX(774.10px) scaleX(1.0667)">100.0</span><span class="n" style="top:424px;transform:translateX(870.10px) scaleX(1.0667)">100.0</span><span class="n" style="top:424px;transform:translateX(969.10px) scaleX(1.0667)">100.0</span></div>
</div>
<div class="notes">
<div class="hl" style="left:1px;top:456px;width:1020px"></div>
<span class="r" style="top:458px;transform:translateX(2.55px) scaleX(1.0564)">Source: Urban-Brookings Tax Policy Center Microsimulation Model (version 0613-1).</span>
<span class="r" style="top:475px;transform:translateX(2.93px) scaleX(1.0415)">Number of AMT Taxpayers (millions).  Baseline: 4.2</span>
<span class="r" style="top:492px;transform:translateX(2.90px) scaleX(1.0583)">(1) Calendar year. Baseline is current law.</span>
<span class="r" style="top:509px;transform:translateX(2.94px) scaleX(1.0505)">(2) Tax units with negative adjusted gross income are excluded from their respective income class but are included in the totals. For a description of expanded cash income, see</span>
<span class="r" style="top:526px;transform:translateX(3.04px) scaleX(1.0896)">http://www.taxpolicycenter.org/TaxModel/income.cfm .</span>
<span class="r" style="top:543px;transform:translateX(2.89px) scaleX(1.0641)">(3) Includes both filing and non-filing units but excludes those that are dependents of other tax units.</span>
<span class="r" style="top:560px;transform:translateX(2.94px) scaleX(1.0525)">(4) After-tax income is expanded cash income less: individual income tax net of refundable credits; corporate income tax; payroll taxes (Social Security and Medicare); and estate tax.</span>
<span class="r" style="top:577px;transform:translateX(0.18px) scaleX(1.0451)">(5) Average federal tax (includes individual and corporate income tax, payroll taxes for Social Security and Medicare, and the estate tax) as a percentage of average expanded cash income.</span>
</div>
</div></body></html>
